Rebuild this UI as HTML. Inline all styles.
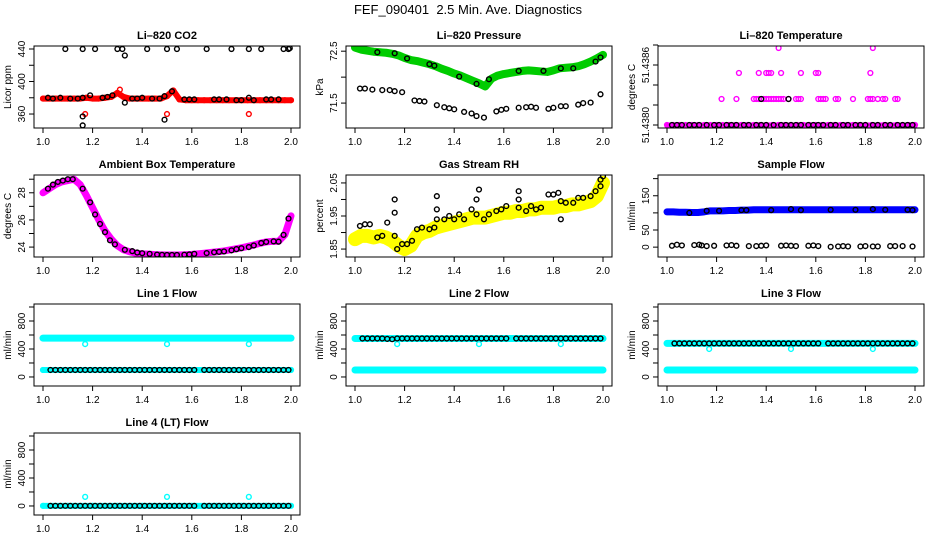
<!DOCTYPE html>
<html><head><meta charset="utf-8"><style>
html,body{margin:0;padding:0;background:#fff;}
svg{display:block;font-family:"Liberation Sans",sans-serif;}
</style></head><body>
<svg id="c" width="936" height="540" viewBox="0 0 936 540">
<text x="468" y="14" text-anchor="middle" font-size="13">FEF_090401&#160; 2.5 Min. Ave. Diagnostics</text>
</svg>
<script>
const cx = [1.000,1.025,1.050,1.075,1.100,1.125,1.150,1.175,1.200,1.225,1.250,1.275,1.300,1.325,1.350,1.375,1.400,1.425,1.450,1.475,1.500,1.525,1.550,1.575,1.600,1.625,1.650,1.675,1.700,1.725,1.750,1.775,1.800,1.825,1.850,1.875,1.900,1.925,1.950,1.975,2.000];
const cx11 = [1.0,1.1,1.2,1.3,1.4,1.5,1.6,1.7,1.8,1.9,2.0];
const xTicks = [1.0,1.2,1.4,1.6,1.8,2.0];
const xTickLabels = ["1.0","1.2","1.4","1.6","1.8","2.0"];

// CO2
const co2Red = [379,379,379,379,379,379,379,380,379,379,380,381,386,381,379,379,379,379,379,379,382,389,378,377,377,377,377,377,377,377,377,377,377,377,377,377,377,377,377,377,377];
const co2RedOutX = [1.17,1.50,1.83,1.31];
const co2RedOutY = [360,360,360,390];
const co2BlkX = [1.02,1.04,1.07,1.11,1.14,1.16,1.19,1.24,1.26,1.28,1.33,1.36,1.38,1.40,1.44,1.47,1.49,1.52,1.57,1.59,1.61,1.69,1.71,1.74,1.78,1.80,1.83,1.85,1.90,1.92,1.95,1.16,1.16,1.49,1.33,1.09,1.16,1.21,1.30,1.32,1.42,1.50,1.54,1.66,1.76,1.83,1.88,1.97,1.99,1.995];
const co2BlkY = [380,379,380,379,379,380,383,380,381,383,374,379,379,380,379,379,382,388,378,378,378,378,378,378,377,377,380,377,378,378,378,357,346,353,432,440,440,440,440,440,440,440,440,440,440,440,440,440,440,441];

// Pressure
const presGreen = [72.57,72.53,72.51,72.49,72.48,72.47,72.45,72.42,72.37,72.33,72.31,72.28,72.25,72.21,72.16,72.12,72.07,72.03,71.98,71.93,71.88,71.82,71.97,72.03,72.06,72.08,72.10,72.12,72.13,72.12,72.11,72.10,72.13,72.17,72.18,72.19,72.21,72.25,72.30,72.36,72.43];
const presBlkX = [1.09,1.16,1.21,1.30,1.32,1.42,1.49,1.54,1.66,1.76,1.83,1.88,1.97,1.99,1.02,1.04,1.07,1.11,1.14,1.16,1.19,1.24,1.26,1.28,1.33,1.36,1.38,1.40,1.44,1.47,1.49,1.52,1.57,1.59,1.61,1.66,1.69,1.71,1.73,1.78,1.80,1.83,1.85,1.90,1.92,1.95,1.99];
const presBlkY = [72.48,72.46,72.36,72.25,72.22,72.01,71.87,71.96,72.12,72.12,72.17,72.17,72.30,72.38,71.78,71.78,71.76,71.75,71.75,71.73,71.71,71.55,71.54,71.53,71.46,71.42,71.40,71.38,71.33,71.30,71.25,71.22,71.34,71.37,71.39,71.41,71.42,71.43,71.41,71.39,71.41,71.44,71.44,71.47,71.50,71.51,71.67];

// Li-820 temperature
const tempMagBase = [51.4380,51.4380,51.4380,51.4380,51.4380,51.4380,51.4380,51.4380,51.4380,51.4380,51.4380,51.4380,51.4380,51.4380,51.4380,51.4380,51.4380,51.4380,51.4380,51.4380,51.4380,51.4380,51.4380,51.4380,51.4380,51.4380,51.4380,51.4380,51.4380,51.4380,51.4380,51.4380,51.4380,51.4380,51.4380,51.4380,51.4380,51.4380,51.4380,51.4380,51.4380];
const tempMagX = [1.22,1.28,1.35,1.36,1.37,1.39,1.40,1.41,1.42,1.43,1.44,1.45,1.46,1.47,1.49,1.52,1.53,1.54,1.61,1.62,1.63,1.64,1.68,1.69,1.75,1.81,1.82,1.83,1.85,1.87,1.88,1.92,1.93,1.29,1.37,1.40,1.41,1.42,1.46,1.54,1.60,1.61,1.82,1.45,1.83];
const tempMagY = [51.43826,51.43826,51.43826,51.43826,51.43826,51.43826,51.43826,51.43826,51.43826,51.43826,51.43826,51.43826,51.43826,51.43826,51.43826,51.43826,51.43826,51.43826,51.43826,51.43826,51.43826,51.43826,51.43826,51.43826,51.43826,51.43826,51.43826,51.43826,51.43826,51.43826,51.43826,51.43826,51.43826,51.43852,51.43852,51.43852,51.43852,51.43852,51.43852,51.43852,51.43852,51.43852,51.43852,51.43877,51.43877];
const tempBlkX = [1.02,1.04,1.06,1.09,1.11,1.13,1.16,1.19,1.21,1.24,1.26,1.28,1.31,1.33,1.36,1.38,1.40,1.43,1.46,1.48,1.50,1.52,1.54,1.57,1.59,1.61,1.63,1.66,1.68,1.71,1.73,1.76,1.78,1.80,1.83,1.85,1.88,1.90,1.93,1.95,1.97,1.99,1.38,1.49];
const tempBlkY = [51.4380,51.4380,51.4380,51.4380,51.4380,51.4380,51.4380,51.4380,51.4380,51.4380,51.4380,51.4380,51.4380,51.4380,51.4380,51.4380,51.4380,51.4380,51.4380,51.4380,51.4380,51.4380,51.4380,51.4380,51.4380,51.4380,51.4380,51.4380,51.4380,51.4380,51.4380,51.4380,51.4380,51.4380,51.4380,51.4380,51.4380,51.4380,51.4380,51.4380,51.4380,51.4380,51.43826,51.43826];

// Ambient box temperature
const ambMag = [28.0,28.3,28.6,28.8,28.9,29.0,28.6,27.8,26.9,26.0,25.2,24.6,24.1,23.8,23.65,23.55,23.5,23.48,23.45,23.43,23.42,23.42,23.42,23.44,23.46,23.5,23.55,23.6,23.65,23.7,23.78,23.86,23.95,24.05,24.15,24.28,24.38,24.42,24.42,24.9,26.3];
const ambBlkX = [1.02,1.04,1.06,1.08,1.10,1.12,1.16,1.19,1.21,1.23,1.25,1.27,1.29,1.33,1.36,1.38,1.40,1.43,1.46,1.48,1.50,1.52,1.54,1.57,1.59,1.61,1.66,1.69,1.71,1.73,1.76,1.78,1.80,1.83,1.85,1.88,1.90,1.93,1.95,1.97,1.99];
const ambBlkY = [28.3,28.6,28.8,28.9,29.0,29.0,28.3,27.3,26.4,25.7,25.1,24.5,24.2,23.8,23.7,23.6,23.55,23.5,23.45,23.43,23.42,23.42,23.42,23.44,23.46,23.5,23.56,23.62,23.65,23.68,23.76,23.85,23.92,24.0,24.12,24.3,24.38,24.42,24.4,24.9,26.1];

// Gas stream RH
const rhYellow = [1.88,1.89,1.89,1.885,1.89,1.885,1.875,1.86,1.85,1.86,1.89,1.90,1.905,1.915,1.92,1.925,1.93,1.935,1.94,1.945,1.945,1.945,1.95,1.955,1.96,1.96,1.965,1.965,1.97,1.97,1.975,1.975,1.975,1.98,1.98,1.985,1.985,1.99,1.995,2.01,2.05];
const rhBlkX = [1.02,1.04,1.06,1.09,1.11,1.13,1.16,1.16,1.16,1.17,1.19,1.21,1.23,1.25,1.27,1.30,1.32,1.33,1.33,1.33,1.36,1.38,1.40,1.42,1.44,1.47,1.49,1.49,1.50,1.52,1.54,1.57,1.59,1.61,1.66,1.66,1.66,1.69,1.71,1.73,1.75,1.78,1.80,1.82,1.83,1.83,1.85,1.88,1.90,1.92,1.95,1.97,1.99,1.99,2.00];
const rhBlkY = [1.92,1.925,1.925,1.885,1.89,1.93,1.89,1.96,2.00,1.85,1.865,1.865,1.875,1.91,1.915,1.91,1.915,1.94,1.97,2.01,1.94,1.95,1.94,1.955,1.94,1.97,1.955,2.00,2.03,1.94,1.955,1.965,1.97,1.98,1.975,2.00,2.025,1.965,1.98,1.97,1.975,2.015,2.015,2.02,1.995,1.94,1.99,1.99,2.005,2.005,2.01,2.025,2.04,2.06,2.07];

// Sample flow
const sampBlue = [103,103,102,102,101,101,103,106,106,106,107,107,108,108,109,109,109,109,109,109,109,109,109,109,109,109,109,109,109,109,109,109,109,109,109,109,109,109,109,109,109];
const sampBlkX = [1.09,1.16,1.21,1.30,1.32,1.42,1.50,1.54,1.66,1.76,1.83,1.88,1.97,1.99,1.02,1.04,1.06,1.11,1.13,1.14,1.16,1.19,1.24,1.26,1.28,1.33,1.36,1.38,1.40,1.46,1.48,1.50,1.52,1.57,1.59,1.61,1.66,1.69,1.71,1.73,1.78,1.80,1.83,1.85,1.90,1.92,1.95,1.99];
const sampBlkY = [100,106,106,108,108,108,111,108,109,109,111,109,109,108,4,7,5,6,7,5,3,4,5,6,4,3,3,4,5,4,5,4,3,4,5,3,1,2,3,2,2,3,2,2,3,3,3,2];

// Line flows
const lineBlkX = [1.03,1.05,1.07,1.09,1.11,1.13,1.15,1.17,1.19,1.21,1.23,1.25,1.27,1.29,1.31,1.33,1.35,1.37,1.39,1.41,1.43,1.45,1.47,1.49,1.51,1.53,1.55,1.57,1.59,1.61,1.65,1.67,1.69,1.71,1.73,1.75,1.77,1.79,1.81,1.83,1.85,1.87,1.89,1.91,1.93,1.95,1.97,1.99];
const line1Blk = [100,100,100,100,100,100,100,100,100,100,100,100,100,100,100,100,100,100,100,100,100,100,100,100,100,100,100,100,100,100,100,100,100,100,100,100,100,100,100,100,100,100,100,100,100,100,100,100];
const line2Blk = [550,550,550,550,550,545,540,550,550,550,550,550,550,550,550,550,550,550,550,550,550,550,550,550,550,550,550,550,550,550,550,550,550,550,550,550,550,550,550,550,550,550,550,550,550,550,550,550];
const line3Blk = [480,480,480,480,480,480,480,480,480,480,480,480,480,480,480,480,480,480,480,480,480,480,480,480,480,480,480,480,480,480,480,480,480,480,480,480,480,480,480,480,480,480,480,480,480,480,480,480];
const line4Blk = [2,2,2,2,2,2,2,2,2,2,2,2,2,2,2,2,2,2,2,2,2,2,2,2,2,2,2,2,2,2,2,2,2,2,2,2,2,2,2,2,2,2,2,2,2,2,2,2];
const line1CyanHi = [555,555,555,555,555,555,555,555,555,555,555];
const line1CyanLo = [100,100,100,100,100,100,100,100,100,100,100];
const line2CyanHi = [550,550,550,550,550,550,550,550,550,550,550];
const line2CyanLo = [100,100,100,100,100,100,100,100,100,100,100];
const line3CyanHi = [480,480,480,480,480,480,480,480,480,480,480];
const line3CyanLo = [100,100,100,100,100,100,100,100,100,100,100];
const line4Cyan = [2,2,2,2,2,2,2,2,2,2,2];
const outX = [1.17,1.50,1.83];
const line1Out = [470,470,470];
const line2Out = [470,470,470];
const line3Out = [400,400,400];
const line4Out = [130,130,130];

const NS = "http://www.w3.org/2000/svg";
const svg = document.getElementById('c');
function mk(tag, attrs, parent){ const e=document.createElementNS(NS,tag); for(const k in attrs) e.setAttribute(k,attrs[k]); (parent||svg).appendChild(e); return e; }

const cols = [{l:34,r:300,x0:43,x1:291},{l:346,r:612,x0:355,x1:603},{l:658,r:924,x0:667,x1:915}];
const rows = [{t:46,b:128},{t:175,b:257},{t:304,b:386},{t:433,b:515}];

function panel(p){
  const c=cols[p.col], r=rows[p.row];
  const g=mk('g',{});
  
  
  const X=v=>c.x0+(v-1)*(c.x1-c.x0);
  const Y=v=>r.b-(v-p.ylim[0])/(p.ylim[1]-p.ylim[0])*(r.b-r.t);
  const t=mk('text',{x:(c.l+c.r)/2,y:r.t-7,'text-anchor':'middle','font-size':11,'font-weight':'bold'},g);
  t.textContent=p.title;
  
  
  const clip='clip'+p.name;
  const cp=mk('clipPath',{id:clip},g); mk('rect',{x:c.l,y:r.t,width:c.r-c.l,height:r.b-r.t},cp);
  const pg=mk('g',{'clip-path':'url(#'+clip+')'},g);
  p.series.forEach(s=>{
    if(s.band){
      let pts=s.x.map((v,i)=>X(v)+','+Y(s.y[i])).join(' ');
      const pl=mk('polyline',{points:pts,fill:'none',stroke:s.color,'stroke-width':s.band,'stroke-linecap':'round','stroke-linejoin':'round'},pg);
      
      
    }
    const n=Math.min(s.x.length,s.y.length);
    for(let i=0;i<n;i++){
      const ci=mk('circle',{cx:X(s.x[i]),cy:Y(s.y[i]),r:2.4,fill:'none',stroke:s.color,'stroke-width':1.4},pg);
      
      
    }
  });
  mk('rect',{x:c.l,y:r.t,width:c.r-c.l,height:r.b-r.t,fill:'none',stroke:'#000','stroke-width':1},g);
  mk('line',{x1:X(xTicks[0]),y1:r.b,x2:X(xTicks[xTicks.length-1]),y2:r.b,stroke:'#000'},g);
  xTicks.forEach((v,i)=>{
    mk('line',{x1:X(v),y1:r.b,x2:X(v),y2:r.b+5,stroke:'#000'},g);
    const tl=mk('text',{x:X(v),y:r.b+17,'text-anchor':'middle','font-size':10},g);
    tl.textContent=xTickLabels[i];
    
    
  });
  mk('line',{x1:c.l,y1:Y(p.yticks[0]),x2:c.l,y2:Y(p.yticks[p.yticks.length-1]),stroke:'#000'},g);
  p.yticks.forEach((v,i)=>{
    mk('line',{x1:c.l-5,y1:Y(v),x2:c.l,y2:Y(v),stroke:'#000'},g);
    if(p.ylabels[i]){
      const yl=mk('text',{x:0,y:0,'text-anchor':'middle','font-size':10,transform:'translate('+(c.l-9)+','+Y(v)+') rotate(-90)'},g);
      yl.textContent=p.ylabels[i];
      
      
    }
  });
  const yt=mk('text',{x:0,y:0,'text-anchor':'middle','font-size':10,transform:'translate('+(c.l-23)+','+((r.t+r.b)/2)+') rotate(-90)'},g);
  yt.textContent=p.ylab;
  
  
}

const flowTicks=[0,200,400,600,800,1000];
const flowLabels=["0","","400","","800",""];
const flowLim=[-129,1043];

panel({name:'co2-panel',col:0,row:0,title:'Li\u2013820 CO2',ylab:'Licor ppm',ylim:[342.8,443.7],yticks:[360,380,400,420,440],ylabels:["360","","400","","440"],
  series:[{name:'co2-red',x:cx,y:co2Red,color:'#ff0000',band:6},{name:'co2-red-outlier',x:co2RedOutX,y:co2RedOutY,color:'#ff0000'},{name:'co2-black',x:co2BlkX,y:co2BlkY,color:'#000'}]});
panel({name:'pressure-panel',col:1,row:0,title:'Li\u2013820 Pressure',ylab:'kPa',ylim:[71.02,72.6],yticks:[71.5,72.0,72.5],ylabels:["71.5","","72.5"],
  series:[{name:'pressure-green',x:cx,y:presGreen,color:'#00cc00',band:8},{name:'pressure-black',x:presBlkX,y:presBlkY,color:'#000'}]});
panel({name:'li820-temp-panel',col:2,row:0,title:'Li\u2013820 Temperature',ylab:'degrees C',ylim:[51.43797,51.43879],yticks:[51.4380,51.4382,51.4384,51.4386,51.4388],ylabels:["51.4380","","","51.4386",""],
  series:[{name:'temp-magenta-base',x:cx,y:tempMagBase,color:'#ff00ff',band:5},{name:'temp-magenta',x:tempMagX,y:tempMagY,color:'#ff00ff'},{name:'temp-black',x:tempBlkX,y:tempBlkY,color:'#000'}]});
panel({name:'ambient-temp-panel',col:0,row:1,title:'Ambient Box Temperature',ylab:'degrees C',ylim:[23.27,29.31],yticks:[24,25,26,27,28,29],ylabels:["24","","26","","28",""],
  series:[{name:'ambient-magenta',x:cx,y:ambMag,color:'#ff00ff',band:7},{name:'ambient-black',x:ambBlkX,y:ambBlkY,color:'#000'}]});
panel({name:'rh-panel',col:1,row:1,title:'Gas Stream RH',ylab:'percent',ylim:[1.826,2.074],yticks:[1.85,1.90,1.95,2.00,2.05],ylabels:["1.85","","1.95","","2.05"],
  series:[{name:'rh-yellow',x:cx,y:rhYellow,color:'#ffff00',band:14},{name:'rh-black',x:rhBlkX,y:rhBlkY,color:'#000'}]});
panel({name:'sample-flow-panel',col:2,row:1,title:'Sample Flow',ylab:'ml/min',ylim:[-28.8,210.6],yticks:[0,50,100,150,200],ylabels:["0","50","","150",""],
  series:[{name:'sample-blue',x:cx,y:sampBlue,color:'#0000ff',band:7},{name:'sample-black',x:sampBlkX,y:sampBlkY,color:'#000'}]});
panel({name:'line1-flow-panel',col:0,row:2,title:'Line 1 Flow',ylab:'ml/min',ylim:flowLim,yticks:flowTicks,ylabels:flowLabels,
  series:[{name:'line1-cyan-hi',x:cx11,y:line1CyanHi,color:'#00ffff',band:7},{name:'line1-cyan-lo',x:cx11,y:line1CyanLo,color:'#00ffff',band:6},{name:'line1-outlier',x:outX,y:line1Out,color:'#00ffff'},{name:'line1-black',x:lineBlkX,y:line1Blk,color:'#000'}]});
panel({name:'line2-flow-panel',col:1,row:2,title:'Line 2 Flow',ylab:'ml/min',ylim:flowLim,yticks:flowTicks,ylabels:flowLabels,
  series:[{name:'line2-cyan-hi',x:cx11,y:line2CyanHi,color:'#00ffff',band:7},{name:'line2-cyan-lo',x:cx11,y:line2CyanLo,color:'#00ffff',band:7},{name:'line2-outlier',x:outX,y:line2Out,color:'#00ffff'},{name:'line2-black',x:lineBlkX,y:line2Blk,color:'#000'}]});
panel({name:'line3-flow-panel',col:2,row:2,title:'Line 3 Flow',ylab:'ml/min',ylim:flowLim,yticks:flowTicks,ylabels:flowLabels,
  series:[{name:'line3-cyan-hi',x:cx11,y:line3CyanHi,color:'#00ffff',band:7},{name:'line3-cyan-lo',x:cx11,y:line3CyanLo,color:'#00ffff',band:7},{name:'line3-outlier',x:outX,y:line3Out,color:'#00ffff'},{name:'line3-black',x:lineBlkX,y:line3Blk,color:'#000'}]});
panel({name:'line4-flow-panel',col:0,row:3,title:'Line 4 (LT) Flow',ylab:'ml/min',ylim:flowLim,yticks:flowTicks,ylabels:flowLabels,
  series:[{name:'line4-cyan',x:cx11,y:line4Cyan,color:'#00ffff',band:6},{name:'line4-outlier',x:outX,y:line4Out,color:'#00ffff'},{name:'line4-black',x:lineBlkX,y:line4Blk,color:'#000'}]});
</script>
</body></html>
